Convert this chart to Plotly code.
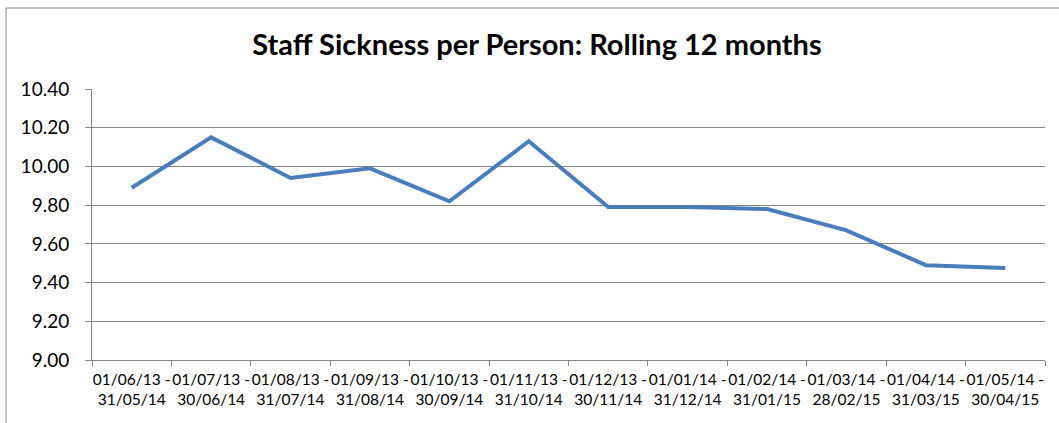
import plotly.graph_objects as go

categories = [
    "01/06/13 -<br>31/05/14", "01/07/13 -<br>30/06/14", "01/08/13 -<br>31/07/14",
    "01/09/13 -<br>31/08/14", "01/10/13 -<br>30/09/14", "01/11/13 -<br>31/10/14",
    "01/12/13 -<br>30/11/14", "01/01/14 -<br>31/12/14", "01/02/14 -<br>31/01/15",
    "01/03/14 -<br>28/02/15", "01/04/14 -<br>31/03/15", "01/05/14 -<br>30/04/15",
]
sickness = [9.89, 10.15, 9.94, 9.99, 9.82, 10.13, 9.79, 9.79, 9.78, 9.67, 9.49, 9.475]
y_ticks = [9.00, 9.20, 9.40, 9.60, 9.80, 10.00, 10.20, 10.40]

W, H = 1059, 423
L, R, T, B = 92, 14, 89, 63
GRID = "#868686"
FONT = "Lato, 'Open Sans', sans-serif"

fig = go.Figure()
fig.add_trace(go.Scatter(
    x=categories, y=sickness, mode="lines",
    line=dict(color="#4A7EBB", width=4),
    showlegend=False, hoverinfo="x+y",
))

fig.update_layout(
    width=W, height=H,
    margin=dict(l=L, r=R, t=T, b=B),
    paper_bgcolor="white", plot_bgcolor="white",
    font=dict(family=FONT, color="#000000"),
    title=dict(
        text="<b>Staff Sickness per Person: Rolling 12 months</b>",
        font=dict(size=29, family=FONT, color="#000000"),
        x=537 / W, xref="container", xanchor="center",
        y=1 - 45 / H, yref="container", yanchor="middle",
    ),
    xaxis=dict(
        type="category", tickson="boundaries",
        range=[-0.5, len(categories) - 0.5],
        showgrid=False, showline=True, linecolor=GRID, linewidth=1,
        ticks="outside", ticklen=5, tickcolor=GRID,
        tickfont=dict(size=15.5, family=FONT),
        ticklabelstandoff=5,
        tickangle=0, mirror=False, zeroline=False,
    ),
    yaxis=dict(
        range=[9.0, 10.4], tickvals=y_ticks,
        ticktext=[f"{v:.2f}" for v in y_ticks],
        showgrid=True, gridcolor=GRID, gridwidth=1,
        showline=True, linecolor=GRID, linewidth=1,
        ticks="outside", ticklen=6, tickcolor=GRID,
        tickfont=dict(size=19, family=FONT),
        ticklabelstandoff=12, zeroline=False,
    ),
    shapes=[
        dict(type="line", xref="paper", yref="paper",
             x0=(6 - L) / (W - L - R), x1=(W + 5 - L) / (W - L - R),
             y0=1 + (T - 8) / (H - T - B), y1=1 + (T - 8) / (H - T - B),
             line=dict(color=GRID, width=1)),
        dict(type="line", xref="paper", yref="paper",
             x0=(6 - L) / (W - L - R), x1=(6 - L) / (W - L - R),
             y0=1 + (T - 8) / (H - T - B), y1=-(B + 5) / (H - T - B),
             line=dict(color=GRID, width=1)),
    ],
)

fig.write_html("out.html", config={"displayModeBar": False})
